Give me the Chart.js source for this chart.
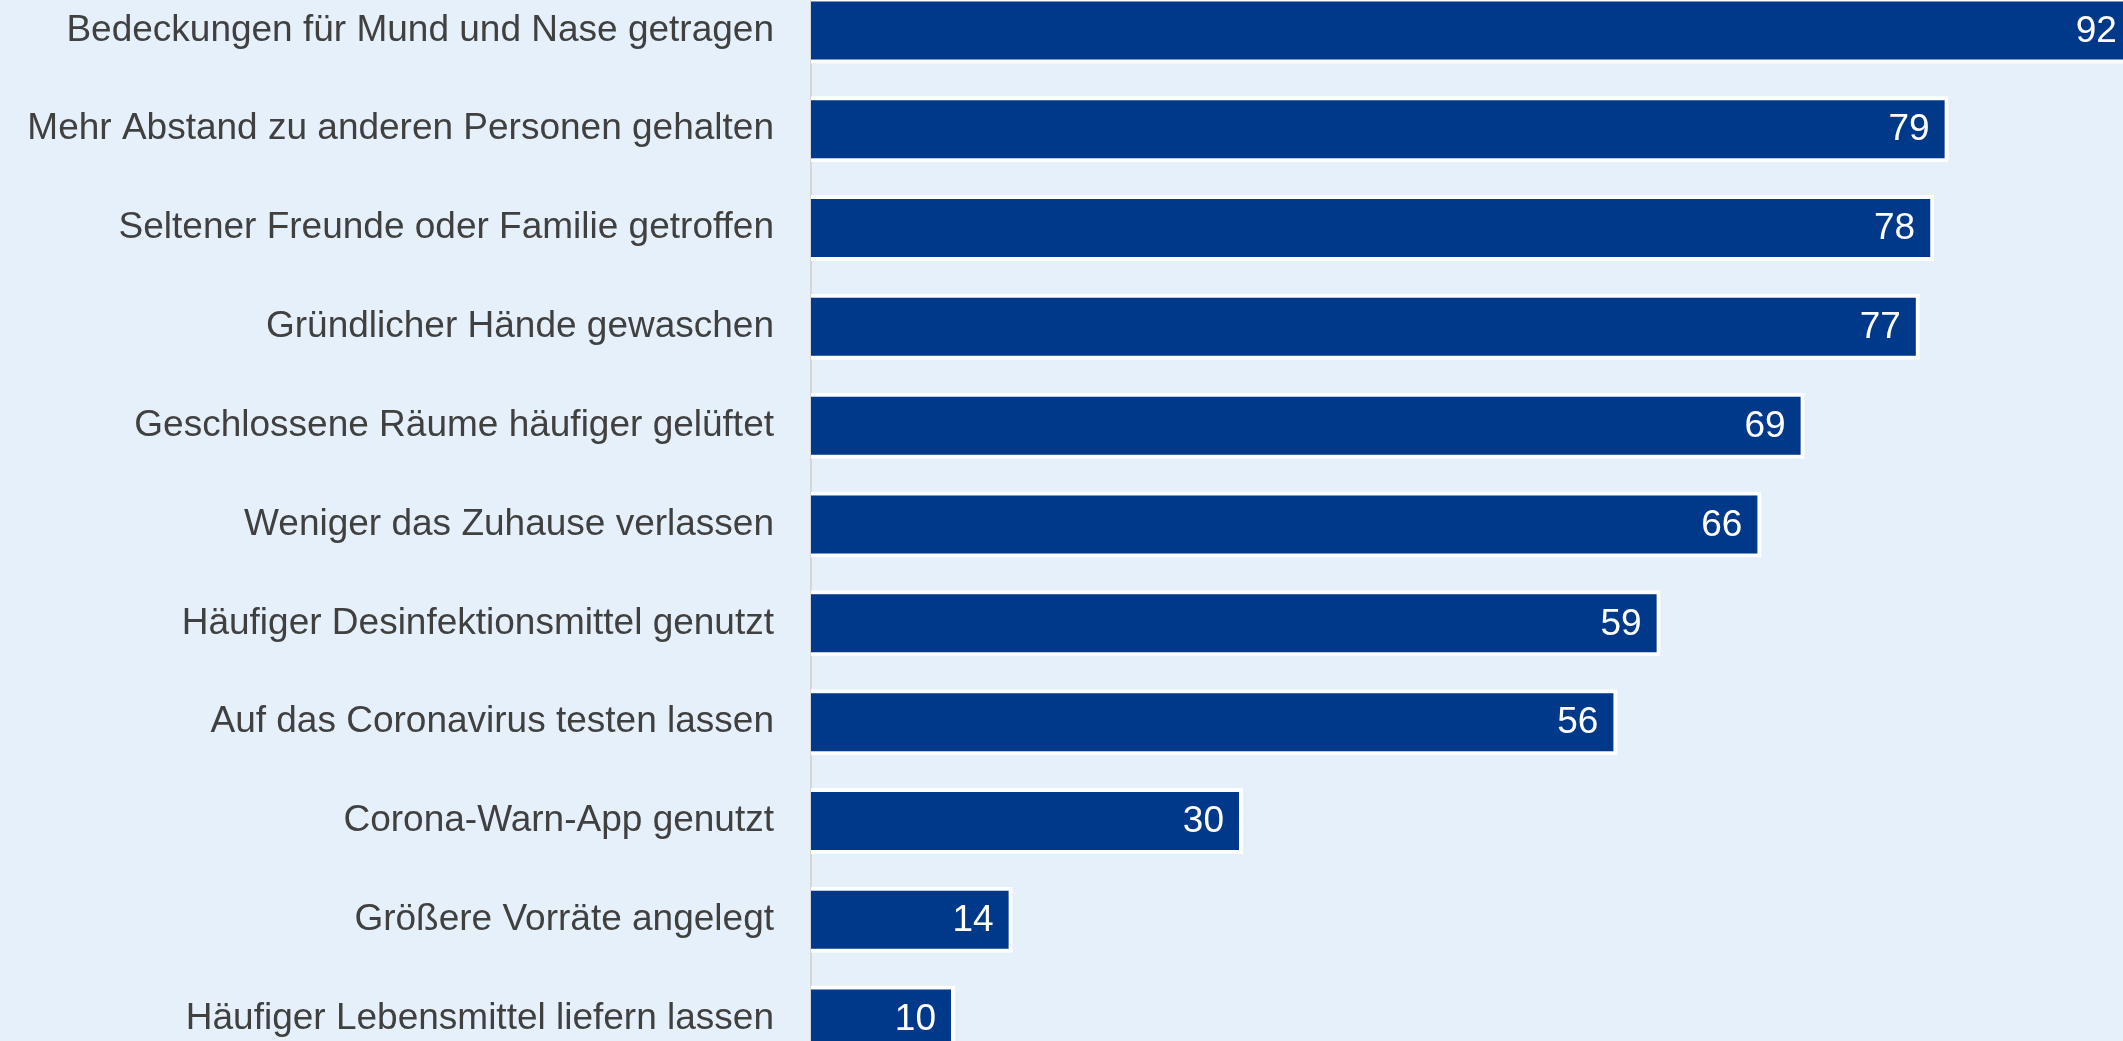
<!DOCTYPE html>
<html lang="de">
<head>
<meta charset="utf-8">
<title>Schutzmaßnahmen</title>
<script src="https://cdn.jsdelivr.net/npm/chart.js@4/dist/chart.umd.min.js"></script>
<style>
    html, body {
        margin: 0;
        padding: 0;
        width: 2123px;
        height: 1041px;
        overflow: hidden;
        background: #e6f0fa;
    }
    #chartCanvas {
        position: absolute;
        left: 0;
        top: -19px;
    }
</style>
</head>
<body>
<canvas id="chartCanvas" width="2251" height="1087"></canvas>
<script>
const categories = [
    'Bedeckungen für Mund und Nase getragen',
    'Mehr Abstand zu anderen Personen gehalten',
    'Seltener Freunde oder Familie getroffen',
    'Gründlicher Hände gewaschen',
    'Geschlossene Räume häufiger gelüftet',
    'Weniger das Zuhause verlassen',
    'Häufiger Desinfektionsmittel genutzt',
    'Auf das Coronavirus testen lassen',
    'Corona-Warn-App genutzt',
    'Größere Vorräte angelegt',
    'Häufiger Lebensmittel liefern lassen'
];
const percentValues = [92, 79, 78, 77, 69, 66, 59, 56, 30, 14, 10];

const FONT = "'Liberation Sans', Arial, sans-serif";

document.addEventListener('DOMContentLoaded', function () {

    // Wert-Beschriftung rechtsbündig im Balken
    const valueLabels = {
        id: 'valueLabels',
        afterDatasetsDraw(chart) {
            const ctx = chart.ctx;
            const meta = chart.getDatasetMeta(0);
            ctx.save();
            ctx.fillStyle = '#ffffff';
            ctx.font = '37px ' + FONT;
            ctx.textAlign = 'right';
            ctx.textBaseline = 'middle';
            meta.data.forEach((bar, i) => {
                ctx.fillText(String(percentValues[i]), bar.x - 19, bar.y + 1);
            });
            ctx.restore();
        }
    };

    const ctx = document.getElementById('chartCanvas').getContext('2d');

    new Chart(ctx, {
        type: 'bar',
        data: {
            labels: categories,
            datasets: [
                {
                    data: percentValues,
                    backgroundColor: '#00388a',
                    borderColor: '#ffffff',
                    borderWidth: 4,
                    borderSkipped: 'start',
                    barPercentage: 0.668,
                    categoryPercentage: 1.0
                }
            ]
        },
        options: {
            indexAxis: 'y',
            responsive: false,
            animation: false,
            devicePixelRatio: 1,
            layout: {
                padding: 0
            },
            plugins: {
                legend: { display: false },
                tooltip: { enabled: false },
                title: { display: false }
            },
            scales: {
                x: {
                    display: false,
                    min: 0,
                    max: 100
                },
                y: {
                    afterFit(scale) {
                        // feste Breite, keine Zusatzabstände oben/unten
                        scale.width = 811;
                        scale.paddingTop = 0;
                        scale.paddingBottom = 0;
                    },
                    grid: {
                        display: false,
                        drawTicks: false
                    },
                    border: {
                        display: true,
                        color: '#d6d6d6',
                        width: 2
                    },
                    ticks: {
                        autoSkip: false,
                        padding: 37,
                        color: '#404040',
                        font: {
                            family: FONT,
                            size: 37
                        }
                    }
                }
            }
        },
        plugins: [valueLabels]
    });
});
</script>
</body>
</html>
